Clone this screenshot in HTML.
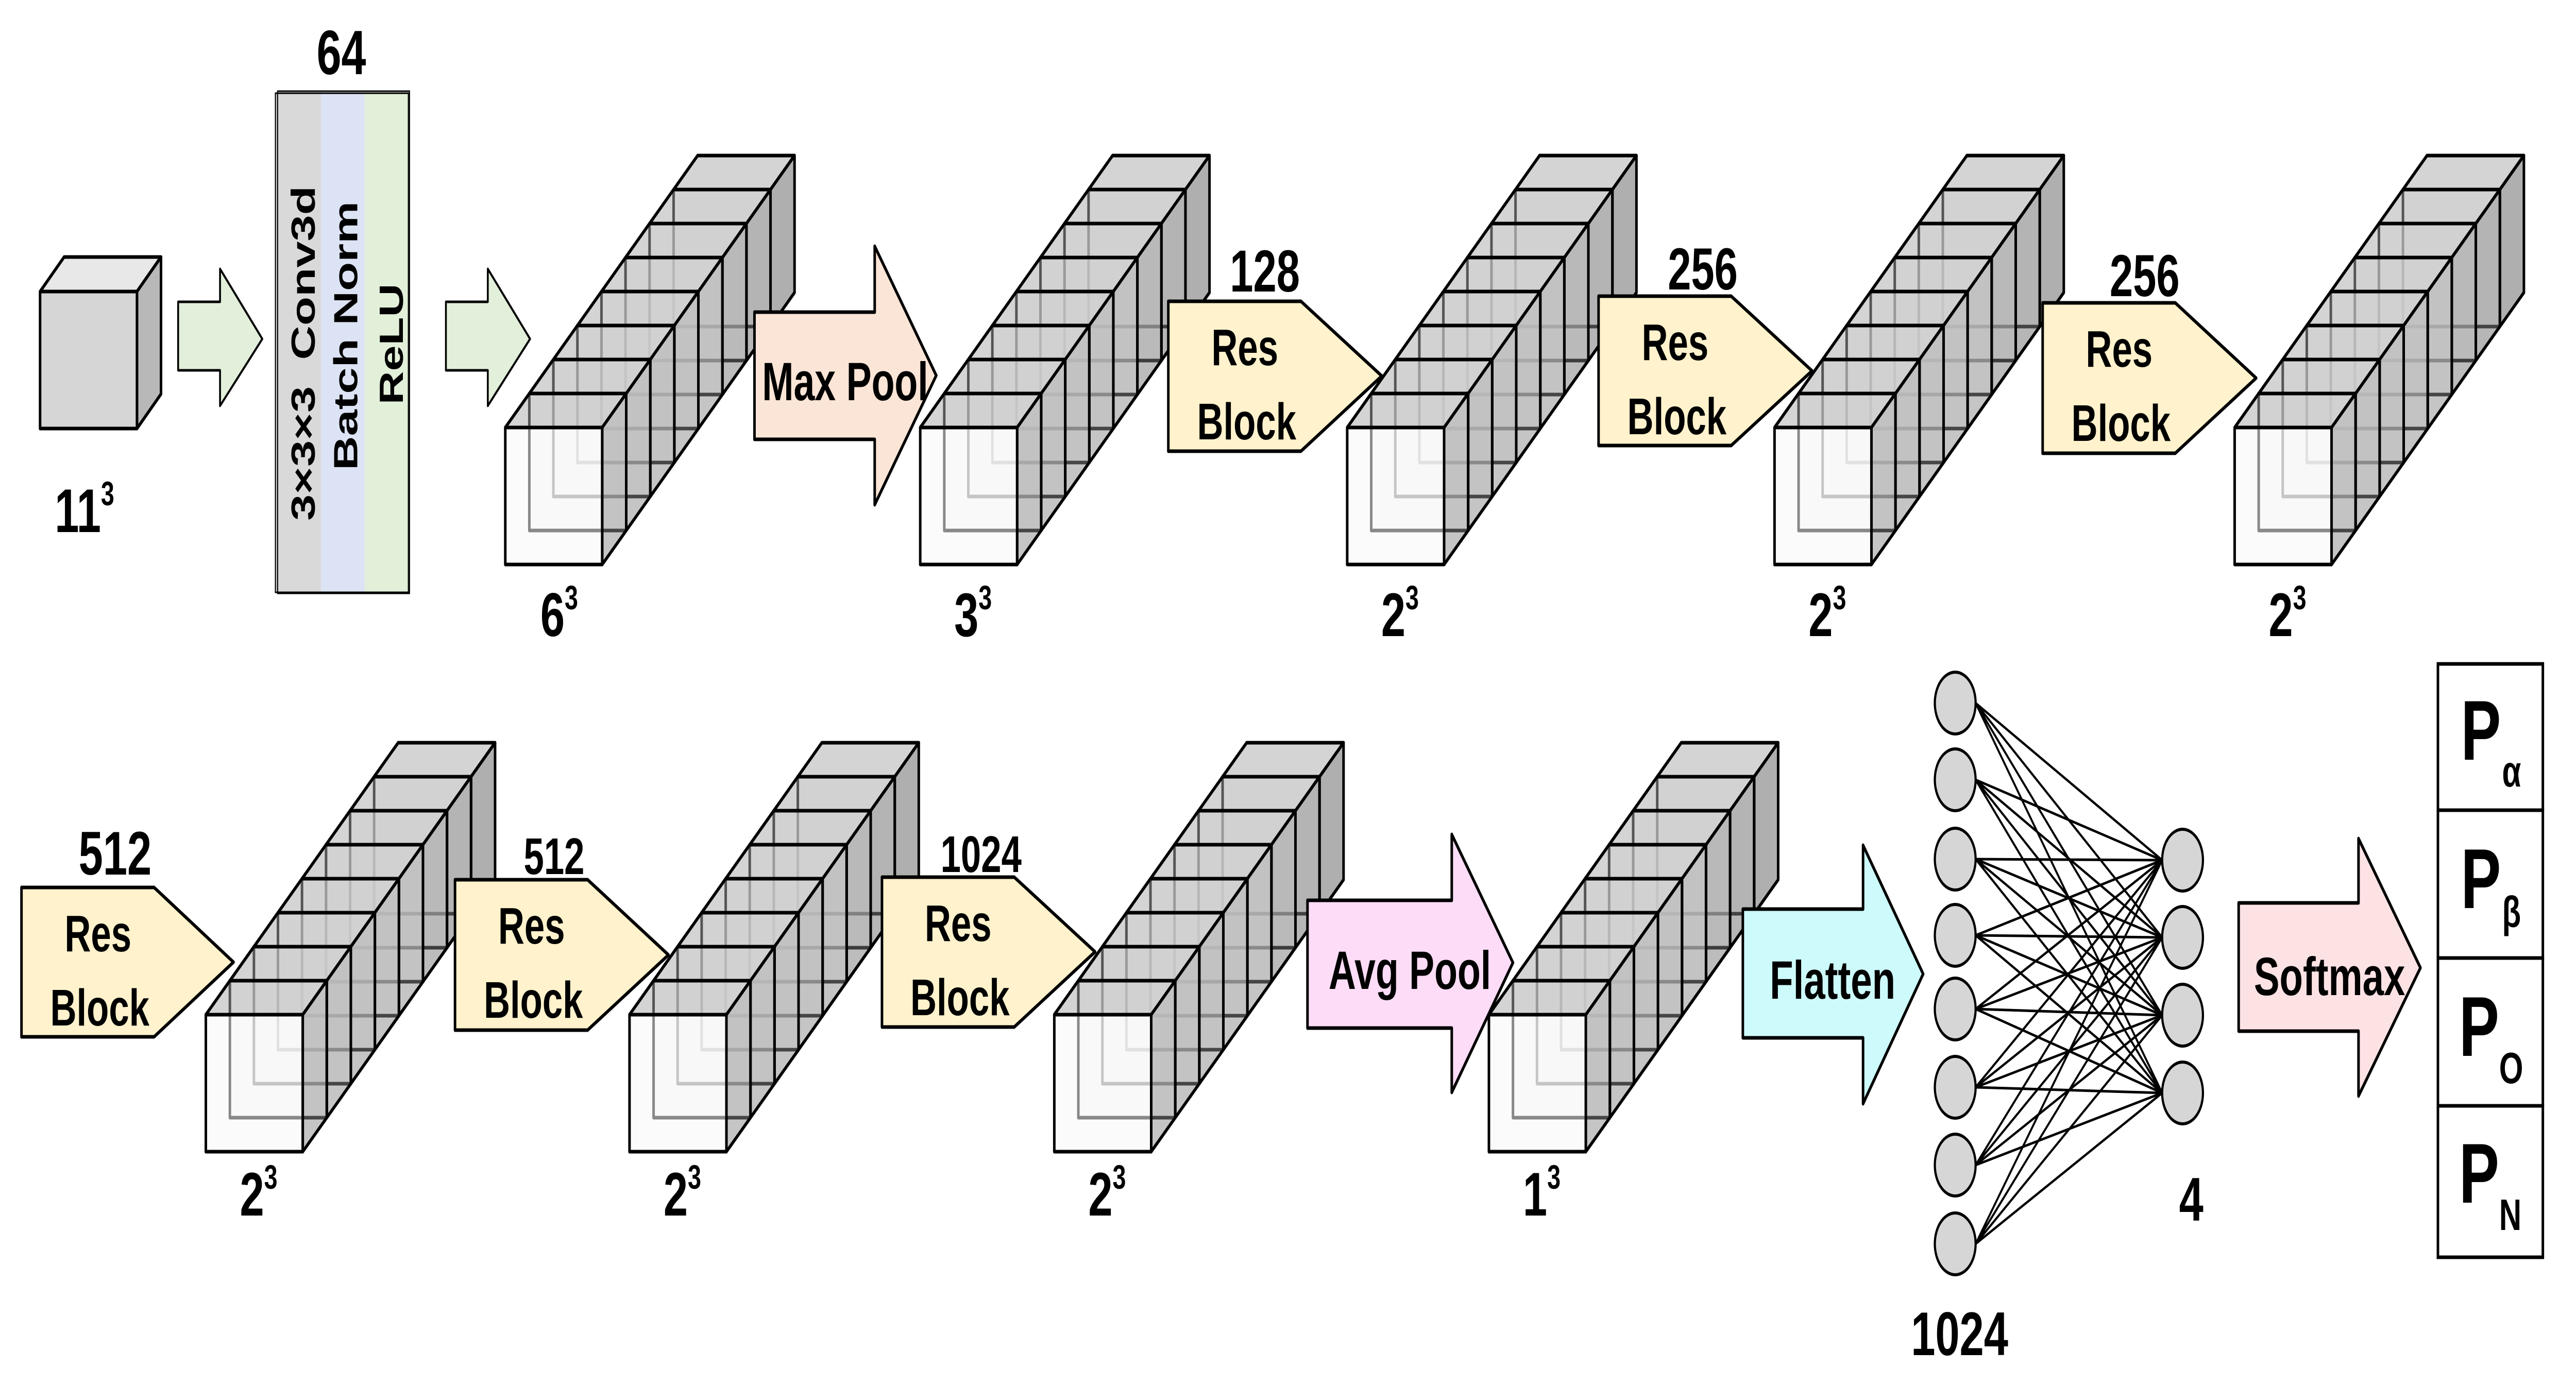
<!DOCTYPE html>
<html><head><meta charset="utf-8"><style>html,body{margin:0;padding:0;background:#fff;width:100%;height:100%;overflow:hidden}svg{display:block;width:100vw;height:100vh}text{font-family:"Liberation Sans",Arial,sans-serif;font-weight:bold;fill:#000}</style></head>
<body>
<svg viewBox="0 0 7071 2689" preserveAspectRatio="none" xmlns="http://www.w3.org/2000/svg">
<defs>
<g id="stk" stroke="#000" stroke-width="7" stroke-linejoin="round">
<g><polygon points="462,-462 728,-462 794,-528 528,-528" fill="#aaa" fill-opacity=".5"/><polygon points="728,-462 794,-528 794,-262 728,-196" fill="#7a7a7a" fill-opacity=".6"/><rect x="462" y="-462" width="266" height="266" fill="#f7f7f7" fill-opacity=".55"/></g>
<g><polygon points="396,-396 662,-396 728,-462 462,-462" fill="#aaa" fill-opacity=".5"/><polygon points="662,-396 728,-462 728,-196 662,-130" fill="#7a7a7a" fill-opacity=".55"/><rect x="396" y="-396" width="266" height="266" fill="#f7f7f7" fill-opacity=".55"/></g>
<g><polygon points="330,-330 596,-330 662,-396 396,-396" fill="#aaa" fill-opacity=".5"/><polygon points="596,-330 662,-396 662,-130 596,-64" fill="#7a7a7a" fill-opacity=".5"/><rect x="330" y="-330" width="266" height="266" fill="#f7f7f7" fill-opacity=".55"/></g>
<g><polygon points="264,-264 530,-264 596,-330 330,-330" fill="#aaa" fill-opacity=".5"/><polygon points="530,-264 596,-330 596,-64 530,2" fill="#8c8c8c" fill-opacity=".5"/><rect x="264" y="-264" width="266" height="266" fill="#f7f7f7" fill-opacity=".55"/></g>
<g><polygon points="198,-198 464,-198 530,-264 264,-264" fill="#aaa" fill-opacity=".5"/><polygon points="464,-198 530,-264 530,2 464,68" fill="#8c8c8c" fill-opacity=".5"/><rect x="198" y="-198" width="266" height="266" fill="#f7f7f7" fill-opacity=".55"/></g>
<g><polygon points="132,-132 398,-132 464,-198 198,-198" fill="#aaa" fill-opacity=".5"/><polygon points="398,-132 464,-198 464,68 398,134" fill="#8c8c8c" fill-opacity=".5"/><rect x="132" y="-132" width="266" height="266" fill="#f7f7f7" fill-opacity=".55"/></g>
<g><polygon points="66,-66 332,-66 398,-132 132,-132" fill="#aaa" fill-opacity=".5"/><polygon points="332,-66 398,-132 398,134 332,200" fill="#8c8c8c" fill-opacity=".5"/><rect x="66" y="-66" width="266" height="266" fill="#f7f7f7" fill-opacity=".55"/></g>
<g><polygon points="0,0 266,0 332,-66 66,-66" fill="#aaa" fill-opacity=".5"/><polygon points="266,0 332,-66 332,200 266,266" fill="#8c8c8c" fill-opacity=".5"/><rect x="0" y="0" width="266" height="266" fill="#f7f7f7" fill-opacity=".55"/></g>
</g>
</defs>

<g stroke="#000" stroke-width="7" stroke-linejoin="round">
<polygon points="110,566 376,566 442,499 176,499" fill="#e8e8e8"/>
<polygon points="376,566 442,499 442,765 376,832" fill="#b8b8b8"/>
<rect x="110" y="566" width="266" height="266" fill="#d6d6d6"/>
</g>
<text x="232" y="1033" font-size="120" text-anchor="middle">11<tspan font-size="66" dy="-52">3</tspan></text>

<g stroke="#000" stroke-width="5" stroke-linejoin="round" fill="#e2efda">
<polygon points="489,586 604,586 604,522 720,658 604,788 604,719 489,719"/>
<polygon points="1224,586 1339,586 1339,522 1455,658 1339,788 1339,719 1224,719"/>
</g>

<rect x="756" y="179" width="125" height="972" fill="#d9d9d9"/>
<rect x="881" y="179" width="120" height="972" fill="#dce3f4"/>
<rect x="1001" y="179" width="122" height="972" fill="#e2efd9"/>
<rect x="756" y="181" width="365" height="969" fill="none" stroke="#000" stroke-width="3"/>
<rect x="762" y="177" width="362" height="975" fill="none" stroke="#000" stroke-width="3"/>
<text x="937" y="144" font-size="122" text-anchor="middle">64</text>
<text transform="translate(832,686) rotate(-90)" font-size="92" text-anchor="middle" dominant-baseline="central" textLength="650" lengthAdjust="spacingAndGlyphs">3×3×3&#160;&#160;Conv3d</text>
<text transform="translate(949,652) rotate(-90)" font-size="92" text-anchor="middle" dominant-baseline="central" textLength="522" lengthAdjust="spacingAndGlyphs">Batch Norm</text>
<text transform="translate(1074,668) rotate(-90)" font-size="92" text-anchor="middle" dominant-baseline="central" textLength="235" lengthAdjust="spacingAndGlyphs">ReLU</text>

<use href="#stk" x="1387" y="830"/>
<use href="#stk" x="2526" y="830"/>
<use href="#stk" x="3698" y="830"/>
<use href="#stk" x="4871" y="830"/>
<use href="#stk" x="6134" y="830"/>
<use href="#stk" x="565" y="1970"/>
<use href="#stk" x="1728" y="1970"/>
<use href="#stk" x="2894" y="1970"/>
<use href="#stk" x="4087" y="1970"/>

<g font-size="120" text-anchor="middle">
<text x="1535" y="1235">6<tspan font-size="66" dy="-52">3</tspan></text>
<text x="2671" y="1235">3<tspan font-size="66" dy="-52">3</tspan></text>
<text x="3843" y="1235">2<tspan font-size="66" dy="-52">3</tspan></text>
<text x="5016" y="1235">2<tspan font-size="66" dy="-52">3</tspan></text>
<text x="6279" y="1235">2<tspan font-size="66" dy="-52">3</tspan></text>
<text x="710" y="2360">2<tspan font-size="66" dy="-52">3</tspan></text>
<text x="1873" y="2360">2<tspan font-size="66" dy="-52">3</tspan></text>
<text x="3039" y="2360">2<tspan font-size="66" dy="-52">3</tspan></text>
<text x="4232" y="2360">1<tspan font-size="66" dy="-52">3</tspan></text>
</g>

<g stroke="#000" stroke-width="7" stroke-linejoin="round">
<polygon points="2071,606 2401,606 2401,478 2570,729 2401,980 2401,853 2071,853" fill="#fae5d6"/>
<polygon points="3589,1748 3985,1748 3985,1620 4153,1869 3985,2121 3985,1996 3589,1996" fill="#fcdcf6"/>
<polygon points="4784,1765 5114,1765 5114,1641 5279,1891 5114,2143 5114,2015 4784,2015" fill="#cdfafa"/>
<polygon points="6145,1753 6474,1753 6474,1628 6644,1879 6474,2128 6474,2002 6145,2002" fill="#fde2e4"/>
</g>
<text x="2092" y="777" font-size="105" textLength="456" lengthAdjust="spacingAndGlyphs">Max Pool</text>
<text x="3647" y="1920" font-size="105" textLength="446" lengthAdjust="spacingAndGlyphs">Avg Pool</text>
<text x="4858" y="1939" font-size="105" textLength="345" lengthAdjust="spacingAndGlyphs">Flatten</text>
<text x="6187" y="1932" font-size="105" textLength="415" lengthAdjust="spacingAndGlyphs">Softmax</text>

<g stroke="#000" stroke-width="7" stroke-linejoin="round" fill="#fff2cc">
<polygon points="3207,585 3571,585 3793,730 3571,876 3207,876"/>
<polygon points="4388,575 4752,575 4974,720 4752,865 4388,865"/>
<polygon points="5607,588 5971,588 6193,734 5971,880 5607,880"/>
<polygon points="59,1723 423,1723 641,1868 423,2013 59,2013"/>
<polygon points="1249,1708 1613,1708 1835,1854 1613,2000 1249,2000"/>
<polygon points="2421,1703 2784,1703 3006,1848 2784,1994 2421,1994"/>
</g>
<g font-size="100" text-anchor="middle">
<text x="3417" y="709">Res</text><text x="3422" y="853">Block</text>
<text x="4598" y="699">Res</text><text x="4603" y="843">Block</text>
<text x="5817" y="712">Res</text><text x="5822" y="856">Block</text>
<text x="269" y="1847">Res</text><text x="274" y="1991">Block</text>
<text x="1459" y="1832">Res</text><text x="1464" y="1976">Block</text>
<text x="2630" y="1827">Res</text><text x="2635" y="1971">Block</text>
</g>
<g text-anchor="middle">
<text x="3472" y="566" font-size="115">128</text>
<text x="4674" y="562" font-size="115">256</text>
<text x="5887" y="575" font-size="115">256</text>
<text x="316" y="1698" font-size="120">512</text>
<text x="1521" y="1697" font-size="100">512</text>
<text x="2693" y="1693" font-size="100">1024</text>
</g>

<path fill="none" stroke="#000" stroke-width="5" d="
M5423 1365L5935 1670M5423 1365L5935 1820M5423 1365L5935 1971M5423 1365L5935 2122
M5423 1514L5935 1670M5423 1514L5935 1820M5423 1514L5935 1971M5423 1514L5935 2122
M5423 1668L5935 1670M5423 1668L5935 1820M5423 1668L5935 1971M5423 1668L5935 2122
M5423 1816L5935 1670M5423 1816L5935 1820M5423 1816L5935 1971M5423 1816L5935 2122
M5423 1959L5935 1670M5423 1959L5935 1820M5423 1959L5935 1971M5423 1959L5935 2122
M5423 2111L5935 1670M5423 2111L5935 1820M5423 2111L5935 1971M5423 2111L5935 2122
M5423 2262L5935 1670M5423 2262L5935 1820M5423 2262L5935 1971M5423 2262L5935 2122
M5423 2415L5935 1670M5423 2415L5935 1820M5423 2415L5935 1971M5423 2415L5935 2122"/>
<g fill="#d6d6d6" stroke="#000" stroke-width="6">
<ellipse cx="5367" cy="1365" rx="56" ry="60"/>
<ellipse cx="5367" cy="1514" rx="56" ry="60"/>
<ellipse cx="5367" cy="1668" rx="56" ry="60"/>
<ellipse cx="5367" cy="1816" rx="56" ry="60"/>
<ellipse cx="5367" cy="1959" rx="56" ry="60"/>
<ellipse cx="5367" cy="2111" rx="56" ry="60"/>
<ellipse cx="5367" cy="2262" rx="56" ry="60"/>
<ellipse cx="5367" cy="2415" rx="56" ry="60"/>
<ellipse cx="5991" cy="1670" rx="56" ry="60"/>
<ellipse cx="5991" cy="1820" rx="56" ry="60"/>
<ellipse cx="5991" cy="1971" rx="56" ry="60"/>
<ellipse cx="5991" cy="2122" rx="56" ry="60"/>
</g>
<text x="5379" y="2631" font-size="120" text-anchor="middle">1024</text>
<text x="6015" y="2370" font-size="120" text-anchor="middle">4</text>

<g fill="#fff" stroke="#000" stroke-width="7">
<rect x="6692" y="1289" width="288" height="284"/>
<rect x="6692" y="1573" width="288" height="287"/>
<rect x="6692" y="1860" width="288" height="287"/>
<rect x="6692" y="2147" width="288" height="294"/>
</g>
<g font-size="165">
<text x="6755" y="1475">P</text><text x="6868" y="1527" font-size="85">α</text>
<text x="6755" y="1763">P</text><text x="6868" y="1800" font-size="85">β</text>
<text x="6750" y="2050">P</text><text x="6860" y="2103" font-size="85">O</text>
<text x="6750" y="2335">P</text><text x="6860" y="2388" font-size="85">N</text>
</g>
</svg>
</body></html>
